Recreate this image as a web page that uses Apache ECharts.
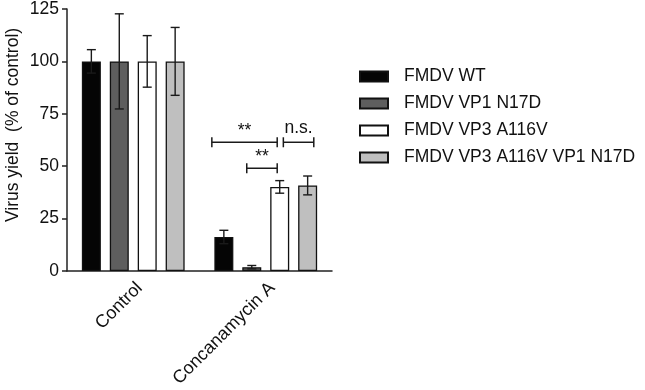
<!DOCTYPE html>
<html>
<head>
<meta charset="utf-8">
<script src="https://cdn.jsdelivr.net/npm/echarts@6/dist/echarts.min.js"></script>
<style>
  html, body { margin: 0; padding: 0; background: #fff; }
  #chart { width: 645px; height: 390px; }
</style>
</head>
<body>
<div id="chart"></div>
<script>
const categories = ['Control', 'Concanamycin A'];
const seriesNames = ['FMDV WT', 'FMDV VP1 N17D', 'FMDV VP3 A116V', 'FMDV VP3 A116V VP1 N17D'];
const barColors = ['#050505', '#5e5e5e', '#ffffff', '#bfbfbf'];

// mean and SD, one array per virus, per category
const wtMean = [100, 16.2];
const wtErr = [5.6, 3.2];
const vp1Mean = [100, 1.8];
const vp1Err = [22.7, 0.8];
const vp3Mean = [100, 40.1];
const vp3Err = [12.3, 3.0];
const dblMean = [100, 40.8];
const dblErr = [16.2, 4.5];

const allMeans = [wtMean, vp1Mean, vp3Mean, dblMean];
const allErrs = [wtErr, vp1Err, vp3Err, dblErr];

// significance brackets (position in bar slots of the group, 0 = first bar)
const bracketCat = [1, 1, 1];
const bracketFrom = [-0.43, 0.82, 2.13];
const bracketTo = [1.91, 1.91, 3.22];
const bracketY = [61.4, 49.0, 61.4];
const bracketText = ['**', '**', 'n.s.'];

const yTicks = [0, 25, 50, 75, 100, 125];

const FONT = "'Liberation Sans', Arial, sans-serif";
const BAR_W = 19;
const BAR_GAP = 0.47;
const step = BAR_W * (1 + BAR_GAP);

const chart = echarts.init(document.getElementById('chart'));

const barSeries = seriesNames.map((name, i) => ({
    name: name,
    type: 'bar',
    data: allMeans[i],
    barWidth: BAR_W,
    barGap: (BAR_GAP * 100) + '%',
    itemStyle: {
        color: barColors[i],
        borderColor: '#111',
        borderWidth: 1.3
    },
    z: 2
}));

const errSeries = seriesNames.map((name, i) => ({
    type: 'custom',
    name: name + ' err',
    data: allMeans[i].map((m, c) => [c, m, allErrs[i][c]]),
    encode: { x: 0, y: 1 },
    z: 5,
    silent: true,
    renderItem: (params, api) => {
        const cat = api.value(0);
        const mean = api.value(1);
        const err = api.value(2);
        const x = api.coord([cat, mean])[0] + (i - 1.5) * step;
        const top = api.coord([cat, mean + err])[1];
        const bot = api.coord([cat, Math.max(mean - err, 0)])[1];
        const cap = 4.5;
        const style = { stroke: '#1a1a1a', lineWidth: 1.4 };
        return {
            type: 'group',
            children: [
                { type: 'line', shape: { x1: x, y1: top, x2: x, y2: bot }, style: style },
                { type: 'line', shape: { x1: x - cap, y1: top, x2: x + cap, y2: top }, style: style },
                { type: 'line', shape: { x1: x - cap, y1: bot, x2: x + cap, y2: bot }, style: style }
            ]
        };
    }
}));

const bracketSeries = {
    type: 'custom',
    name: 'sig',
    data: bracketCat.map((c, k) => [c, bracketY[k], bracketFrom[k], bracketTo[k]]),
    encode: { x: 0, y: 1 },
    z: 6,
    silent: true,
    renderItem: (params, api) => {
        const cat = api.value(0);
        const yv = api.value(1);
        const p = api.coord([cat, yv]);
        const first = p[0] - 1.5 * step;
        const x1 = first + api.value(2) * step;
        const x2 = first + api.value(3) * step;
        const y = p[1];
        const cap = 5;
        const txt = bracketText[params.dataIndex];
        const style = { stroke: '#1a1a1a', lineWidth: 1.5 };
        return {
            type: 'group',
            children: [
                { type: 'line', shape: { x1: x1, y1: y, x2: x2, y2: y }, style: style },
                { type: 'line', shape: { x1: x1, y1: y - cap, x2: x1, y2: y + cap }, style: style },
                { type: 'line', shape: { x1: x2, y1: y - cap, x2: x2, y2: y + cap }, style: style },
                {
                    type: 'text',
                    x: (x1 + x2) / 2,
                    y: txt === '**' ? y - 2 : y - 5,
                    style: {
                        text: txt,
                        fill: '#111',
                        font: '17.5px ' + FONT,
                        align: 'center',
                        verticalAlign: 'bottom'
                    }
                }
            ]
        };
    }
};

chart.setOption({
    animation: false,
    backgroundColor: '#fff',
    textStyle: { fontFamily: FONT },
    grid: { left: 67, top: 8, width: 265, bottom: 118.5 },
    legend: {
        data: seriesNames,
        orient: 'vertical',
        left: 359,
        top: 67.5,
        padding: 0,
        itemWidth: 28,
        itemHeight: 10,
        itemGap: 9,
        icon: 'rect',
        selectedMode: false,
        textStyle: { fontSize: 17.5, color: '#111', fontFamily: FONT, padding: [0, 0, 0, 11] }
    },
    xAxis: {
        type: 'category',
        data: categories,
        axisLine: { lineStyle: { color: '#222', width: 1.5 } },
        axisTick: { alignWithLabel: true, length: 6, lineStyle: { color: '#222', width: 1.5 } },
        axisLabel: {
            rotate: 45, fontSize: 18, color: '#111', margin: 8, fontFamily: FONT,
            verticalAlign: 'top'
        }
    },
    yAxis: {
        type: 'value',
        min: 0,
        max: 125,
        interval: 25,
        name: 'Virus yield  (% of control)',
        nameLocation: 'middle',
        nameGap: 45,
        nameTextStyle: { fontSize: 17.5, color: '#111', fontFamily: FONT, padding: [0, 0, 0, 30] },
        splitLine: { show: false },
        axisLine: { show: true, lineStyle: { color: '#222', width: 1.5 } },
        axisTick: { show: true, length: 5, lineStyle: { color: '#222', width: 1.5 } },
        axisLabel: {
            fontSize: 17.5, color: '#111', margin: 8, fontFamily: FONT,
            formatter: v => yTicks.includes(v) ? String(v) : ''
        }
    },
    series: [...barSeries, ...errSeries, bracketSeries]
});
</script>
</body>
</html>
